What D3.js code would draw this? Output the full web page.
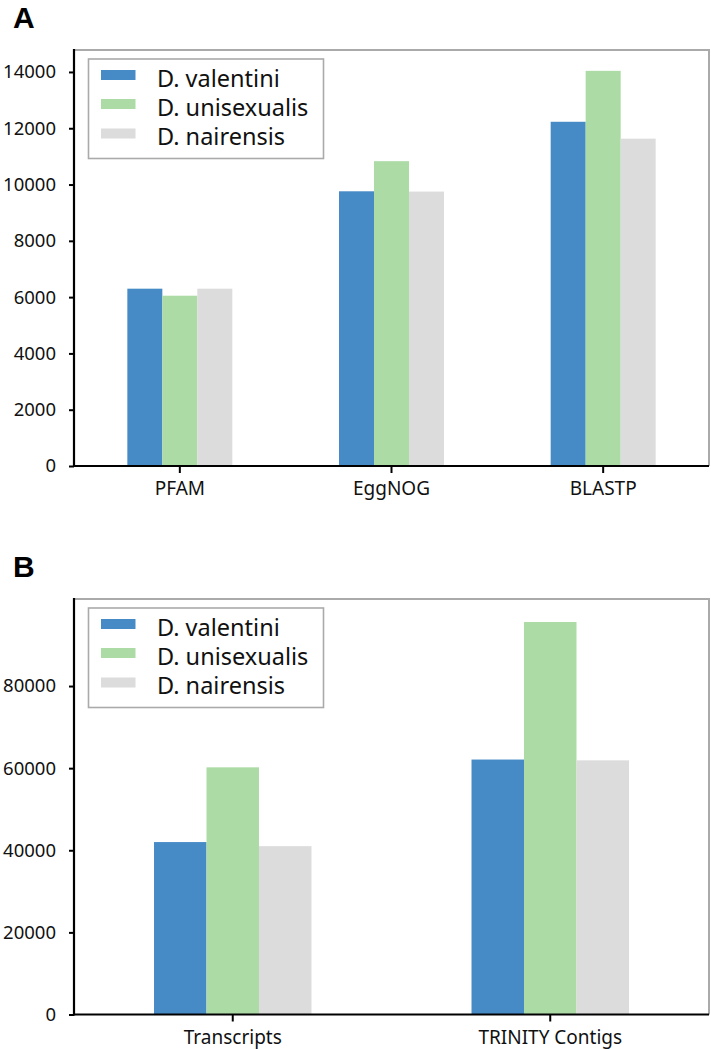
<!DOCTYPE html>
<html>
<head>
<meta charset="utf-8">
<script src="https://cdn.jsdelivr.net/npm/d3@7"></script>
<style>
  html, body { margin: 0; padding: 0; background: #fff; }
  svg { display: block; font-family: "Noto Sans", sans-serif; }
</style>
</head>
<body>
<svg id="chart" width="711" height="1049"></svg>
<script>
// ---- Data ----
const series = ["D. valentini", "D. unisexualis", "D. nairensis"];
const seriesColors = ["#478bc6", "#acdba6", "#dcdcdc"];

const categoriesA = ["PFAM", "EggNOG", "BLASTP"];
const valentiniA = [6300, 9760, 12230];
const unisexualisA = [6050, 10830, 14040];
const nairensisA = [6300, 9750, 11630];
const ticksA = [0, 2000, 4000, 6000, 8000, 10000, 12000, 14000];
const maxA = 14780;

const categoriesB = ["Transcripts", "TRINITY Contigs"];
const valentiniB = [42000, 62100];
const unisexualisB = [60200, 95600];
const nairensisB = [41000, 61900];
const ticksB = [0, 20000, 40000, 60000, 80000];
const maxB = 101200;

const svg = d3.select("#chart");

function panel(cfg) {
  const { label, labelY, top, bottom, left, right, categories, values, ticks, yMax } = cfg;
  const g = svg.append("g");

  const x = d3.scaleBand().domain(categories).range([left, right]).padding(0);
  const groupW = x.bandwidth() * 0.496;
  const xs = d3.scaleBand().domain(series).range([-groupW / 2, groupW / 2]).padding(0);
  const y = d3.scaleLinear().domain([0, yMax]).range([bottom, top]);

  // panel letter
  g.append("text").attr("x", 13).attr("y", labelY)
    .attr("font-family", "'Liberation Sans', Arial, sans-serif")
    .attr("font-size", 30).attr("font-weight", "bold").attr("fill", "#000")
    .text(label);

  // frame: top and right in gray
  g.append("path")
    .attr("d", `M${left},${top}H${right}V${bottom}`)
    .attr("fill", "none").attr("stroke", "#aaaaaa").attr("stroke-width", 2);

  // bars
  categories.forEach((c, ci) => {
    series.forEach((s, si) => {
      const v = values[si][ci];
      g.append("rect")
        .attr("x", x(c) + x.bandwidth() / 2 + xs(s))
        .attr("y", y(v))
        .attr("width", xs.bandwidth())
        .attr("height", y(0) - y(v))
        .attr("fill", seriesColors[si]);
    });
  });

  // y axis
  const ya = g.append("g").attr("transform", `translate(${left},0)`)
    .call(d3.axisLeft(y).tickValues(ticks).tickFormat(d3.format("d")).tickSize(5).tickPadding(13));
  ya.select(".domain").remove();
  ya.selectAll(".tick line").attr("stroke", "#000").attr("stroke-width", 2);
  ya.selectAll(".tick text").attr("font-size", 18.5).attr("fill", "#111")
    .attr("font-family", "Noto Sans, sans-serif");
  g.append("line").attr("x1", left).attr("x2", left).attr("y1", top - 1).attr("y2", bottom + 1)
    .attr("stroke", "#000").attr("stroke-width", 2.2);

  // x axis
  const xa = g.append("g").attr("transform", `translate(0,${bottom})`)
    .call(d3.axisBottom(x).tickSize(7).tickPadding(9));
  xa.select(".domain").remove();
  xa.selectAll(".tick line").attr("stroke", "#000").attr("stroke-width", 2);
  xa.selectAll(".tick text").attr("font-size", 19).attr("fill", "#111")
    .attr("font-family", "Noto Sans, sans-serif");
  g.append("line").attr("x1", left - 1).attr("x2", right).attr("y1", bottom).attr("y2", bottom)
    .attr("stroke", "#000").attr("stroke-width", 2.2);

  // legend
  const lx = left + 14.5, ly = top + 9;
  g.append("rect").attr("x", lx).attr("y", ly).attr("width", 235).attr("height", 99.5)
    .attr("fill", "#fff").attr("stroke", "#aaaaaa").attr("stroke-width", 1.6);
  const rowBase = [27.5, 56.5, 86];
  series.forEach((s, si) => {
    g.append("rect").attr("x", lx + 12.5).attr("y", ly + rowBase[si] - 16.5)
      .attr("width", 34.5).attr("height", 10).attr("fill", seriesColors[si]);
    g.append("text").attr("x", lx + 68.5).attr("y", ly + rowBase[si])
      .attr("font-size", 23.5).attr("fill", "#111").text(s);
  });
}

panel({
  label: "A", labelY: 28, top: 50, bottom: 466, left: 74, right: 709,
  categories: categoriesA, values: [valentiniA, unisexualisA, nairensisA],
  ticks: ticksA, yMax: maxA
});

panel({
  label: "B", labelY: 577, top: 599, bottom: 1014.5, left: 74, right: 709,
  categories: categoriesB, values: [valentiniB, unisexualisB, nairensisB],
  ticks: ticksB, yMax: maxB
});
</script>
</body>
</html>
